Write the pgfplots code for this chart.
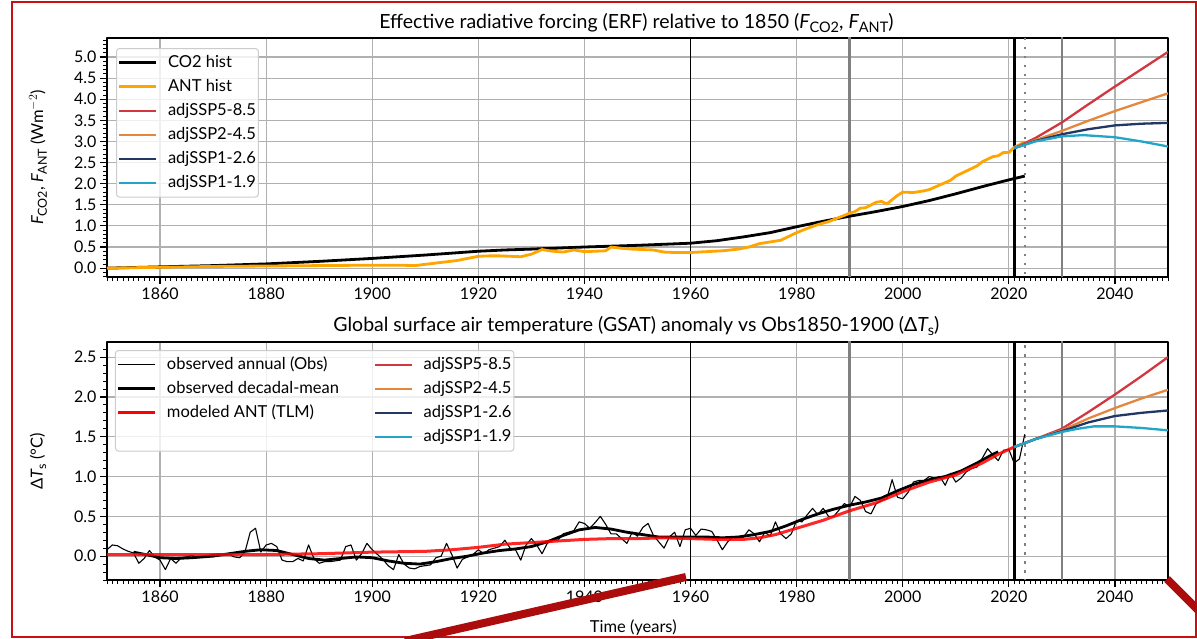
\documentclass[border=0pt]{standalone}
\usepackage{fontspec}
\setmainfont{Lato}
\usepackage{pgfplots}
\pgfplotsset{compat=1.18}
\definecolor{antorange}{RGB}{255,165,0}
\definecolor{sspA}{RGB}{210,55,65}
\definecolor{sspB}{RGB}{228,135,60}
\definecolor{sspC}{RGB}{35,55,100}
\definecolor{sspD}{RGB}{35,165,200}
\definecolor{gridgray}{RGB}{176,176,176}
\definecolor{vgray}{RGB}{128,128,128}
\definecolor{framered}{RGB}{200,16,16}
\definecolor{arrowred}{RGB}{172,12,12}
\definecolor{legframe}{RGB}{204,204,204}
\newcommand{\sbt}[1]{\raisebox{-0.22em}{\fontsize{14.5}{15}\selectfont #1}}
\newcommand{\sby}[1]{\raisebox{-0.22em}{\fontsize{12.5}{13}\selectfont #1}}
\pgfplotsset{
  myaxis/.style={
    scale only axis, width=1061pt,
    xmin=1850, xmax=2050,
    xtick={1860,1880,...,2040},
    minor xtick={1850,1851,...,2050},
    grid=major, major grid style={gridgray, line width=1.2pt},
    tick align=outside, xtick pos=bottom, ytick pos=left,
    major tick length=7pt, minor tick length=4pt,
    major tick style={black, line width=1.2pt},
    minor tick style={black, line width=0.8pt},
    axis line style={black, line width=1.3pt},
    tick label style={font=\fontsize{16}{19}\selectfont},
    /pgf/number format/assume math mode=true,
    xticklabel style={/pgf/number format/1000 sep={}},
    yticklabel style={/pgf/number format/.cd, fixed, fixed zerofill, precision=1},
    title style={font=\fontsize{19.5}{23}\selectfont, anchor=center},
    ylabel style={font=\fontsize{16.5}{19}\selectfont, anchor=center},
    xlabel style={font=\fontsize{16.5}{19}\selectfont, anchor=center},
    legend cell align=left,
    legend image code/.code={\draw[##1] (0pt,0pt) -- (37pt,0pt);},
    legend style={draw=legframe, line width=1pt, rounded corners=3pt, fill=white, fill opacity=0.8, text opacity=1,
      font=\fontsize{16.5}{19}\selectfont, anchor=north west, row sep=5.5pt,
      inner xsep=1pt, inner ysep=5pt,
      nodes={inner sep=1.5pt, text height=12pt, text depth=3.5pt},
      /tikz/every odd column/.append style={column sep=9pt}},
    no markers, line join=round,
  },
}
\begin{document}
\begin{tikzpicture}[x=1pt,y=1pt]
\useasboundingbox (0,0) rectangle (1197,639);
% ---------------- top axis ----------------
\begin{axis}[myaxis, at={(107pt,362pt)}, anchor=south west, height=239pt,
  ymin=-0.21, ymax=5.45, ytick={0,0.5,...,5.0}, minor ytick={-0.2,-0.1,...,5.41},
  title={Effective radiative forcing (ERF) relative to 1850 ({\itshape F}\sbt{CO2}, {\itshape F}\sbt{ANT})},
  title style={at={(axis description cs:0.499,1.0753)}, yshift=-9pt},
  ylabel={{\itshape F}\sby{CO2}, {\itshape F}\sby{ANT} (Wm$^{-2}$)},
  ylabel style={at={(axis description cs:-0.065,0.5)}},
  legend style={at={(0.0085,0.958)}},
]
\addplot[forget plot, black, line width=1.5pt] coordinates {(1960,-1) (1960,10)};
\addplot[forget plot, vgray, line width=2.5pt] coordinates {(1990,-1) (1990,10)};
\addplot[forget plot, vgray, line width=2.5pt] coordinates {(2030,-1) (2030,10)};
\addplot[forget plot, black, line width=3pt] coordinates {(2021,-1) (2021,10)};
\addplot[forget plot, vgray, line width=2pt, dash pattern=on 2.5pt off 6.5pt] coordinates {(2023,-1) (2023,10)};
% CO2 hist
\addplot[forget plot, black, line width=2.8pt] coordinates {
(1850,0.00) (1855,0.015) (1860,0.03) (1865,0.045) (1870,0.06) (1875,0.08) (1880,0.10) (1885,0.13)
(1890,0.16) (1895,0.195) (1900,0.23) (1905,0.27) (1910,0.31) (1915,0.355) (1920,0.40) (1925,0.43)
(1930,0.45) (1935,0.475) (1940,0.50) (1945,0.52) (1950,0.54) (1955,0.565) (1960,0.59) (1965,0.65)
(1970,0.74) (1975,0.84) (1980,0.98) (1985,1.11) (1990,1.23) (1995,1.34) (2000,1.46) (2005,1.60)
(2010,1.76) (2015,1.93) (2020,2.09) (2023,2.18)};
% ANT hist
\addplot[forget plot, antorange, line width=2.8pt] coordinates {
(1850,0.00) (1860,0.02) (1870,0.04) (1880,0.05) (1890,0.06) (1900,0.07) (1905,0.07) (1908,0.06)
(1910,0.09) (1912,0.12) (1914,0.15) (1916,0.18) (1918,0.23) (1920,0.28) (1922,0.29) (1924,0.29)
(1926,0.28) (1928,0.27) (1930,0.33) (1932,0.44) (1934,0.40) (1936,0.38) (1938,0.43) (1940,0.39)
(1942,0.40) (1944,0.41) (1945,0.50) (1947,0.47) (1949,0.45) (1951,0.44) (1953,0.43) (1955,0.38)
(1957,0.37) (1960,0.37) (1963,0.39) (1966,0.41) (1969,0.45) (1971,0.50) (1973,0.58) (1975,0.62)
(1977,0.66) (1979,0.78) (1980,0.84) (1982,0.94) (1984,1.03) (1986,1.10) (1988,1.20) (1990,1.30)
(1991,1.34) (1992,1.42) (1993,1.43) (1995,1.56) (1996,1.58) (1997,1.52) (1999,1.72) (2000,1.80)
(2002,1.79) (2004,1.83) (2005,1.86) (2007,1.97) (2009,2.08) (2010,2.18) (2012,2.30) (2014,2.42)
(2015,2.52) (2016,2.58) (2017,2.64) (2018,2.66) (2019,2.74) (2020,2.74) (2021,2.86) (2022,2.92) (2023,2.99)};
% scenarios
\addplot[forget plot, sspA, line width=2.3pt] coordinates {(2021,2.84) (2025,3.08) (2030,3.45) (2035,3.88) (2040,4.30) (2045,4.71) (2050,5.12)};
\addplot[forget plot, sspB, line width=2.3pt] coordinates {(2021,2.84) (2025,3.03) (2030,3.25) (2035,3.49) (2040,3.72) (2045,3.93) (2050,4.14)};
\addplot[forget plot, sspC, line width=2.3pt] coordinates {(2021,2.84) (2025,3.01) (2030,3.17) (2035,3.29) (2040,3.38) (2045,3.42) (2050,3.44)};
\addplot[forget plot, sspD, line width=2.3pt] coordinates {(2021,2.84) (2025,3.00) (2030,3.12) (2034,3.15) (2040,3.10) (2045,3.00) (2050,2.88)};
\addlegendimage{black, line width=3pt}\addlegendentry{CO2 hist}
\addlegendimage{antorange, line width=3pt}\addlegendentry{ANT hist}
\addlegendimage{sspA, line width=2.5pt}\addlegendentry{adjSSP5-8.5}
\addlegendimage{sspB, line width=2.5pt}\addlegendentry{adjSSP2-4.5}
\addlegendimage{sspC, line width=2.5pt}\addlegendentry{adjSSP1-2.6}
\addlegendimage{sspD, line width=2.5pt}\addlegendentry{adjSSP1-1.9}
\end{axis}
% ---------------- bottom axis ----------------
\begin{axis}[myaxis, at={(107pt,59pt)}, anchor=south west, height=238pt,
  ymin=-0.30, ymax=2.69, ytick={0,0.5,...,2.5}, minor ytick={-0.3,-0.2,...,2.61},
  title={Global surface air temperature (GSAT) anomaly vs Obs1850-1900 (Δ{\itshape T}\sbt{s})},
  title style={at={(axis description cs:0.499,1.0714)}, yshift=-7pt},
  ylabel={Δ{\itshape T}\sby{s} (°C)},
  ylabel style={at={(axis description cs:-0.065,0.5)}},
  xlabel={Time (years)},
  xlabel style={at={(axis description cs:0.496,-0.2017)}},
  legend style={at={(0.0075,0.966)}, /tikz/every even column/.append style={column sep=33pt}},
  legend columns=4, transpose legend,
]
\addplot[forget plot, black, line width=1.5pt] coordinates {(1960,-1) (1960,10)};
\addplot[forget plot, vgray, line width=2.5pt] coordinates {(1990,-1) (1990,10)};
\addplot[forget plot, vgray, line width=2.5pt] coordinates {(2030,-1) (2030,10)};
\addplot[forget plot, black, line width=3pt] coordinates {(2021,-1) (2021,10)};
\addplot[forget plot, vgray, line width=2pt, dash pattern=on 2.5pt off 6.5pt] coordinates {(2023,-1) (2023,10)};
% observed annual
\addplot[forget plot, black, line width=1.1pt] coordinates {
(1850,0.08) (1851,0.14) (1852,0.13) (1853,0.09) (1854,0.06) (1855,0.04) (1856,-0.09) (1857,-0.03)
(1858,0.07) (1859,-0.01) (1860,-0.05) (1861,-0.17) (1862,-0.03) (1863,-0.09) (1864,-0.02) (1865,-0.01)
(1866,0.01) (1867,-0.02) (1868,0.00) (1869,0.01) (1870,0.02) (1871,0.03) (1872,0.01) (1873,0.02)
(1874,-0.01) (1875,-0.02) (1876,0.05) (1877,0.30) (1878,0.35) (1879,0.05) (1880,0.14) (1881,0.16)
(1882,0.12) (1883,-0.05) (1884,-0.07) (1885,-0.07) (1886,-0.03) (1887,-0.06) (1888,0.14) (1889,-0.03)
(1890,-0.09) (1891,-0.07) (1892,-0.07) (1893,-0.06) (1894,-0.05) (1895,0.12) (1896,0.14) (1897,-0.05)
(1898,0.03) (1899,0.16) (1900,0.08) (1901,0.02) (1902,-0.04) (1903,-0.12) (1904,-0.17) (1905,0.02)
(1906,-0.10) (1907,-0.15) (1908,-0.16) (1909,-0.13) (1910,-0.12) (1911,-0.11) (1912,-0.02) (1913,0.00)
(1914,0.16) (1915,0.02) (1916,-0.15) (1917,-0.04) (1918,-0.01) (1919,0.02) (1920,0.08) (1921,0.03)
(1922,0.08) (1923,0.10) (1924,0.12) (1925,0.20) (1926,0.10) (1927,0.08) (1928,-0.05) (1929,0.14)
(1930,0.22) (1931,0.14) (1932,0.03) (1933,0.16) (1934,0.20) (1935,0.20) (1936,0.28) (1937,0.30)
(1938,0.32) (1939,0.43) (1940,0.41) (1941,0.35) (1942,0.42) (1943,0.50) (1944,0.40) (1945,0.28)
(1946,0.28) (1947,0.22) (1948,0.16) (1949,0.30) (1950,0.25) (1951,0.36) (1952,0.41) (1953,0.26)
(1954,0.18) (1955,0.10) (1956,0.24) (1957,0.30) (1958,0.12) (1959,0.33) (1960,0.35) (1961,0.26)
(1962,0.34) (1963,0.33) (1964,0.31) (1965,0.20) (1966,0.08) (1967,0.18) (1968,0.24) (1969,0.24)
(1970,0.24) (1971,0.33) (1972,0.28) (1973,0.18) (1974,0.30) (1975,0.25) (1976,0.43) (1977,0.28)
(1978,0.22) (1979,0.28) (1980,0.45) (1981,0.43) (1982,0.52) (1983,0.60) (1984,0.52) (1985,0.60)
(1986,0.50) (1987,0.50) (1988,0.58) (1989,0.66) (1990,0.62) (1991,0.75) (1992,0.70) (1993,0.56)
(1994,0.53) (1995,0.66) (1996,0.70) (1997,0.72) (1998,0.96) (1999,0.74) (2000,0.72) (2001,0.80)
(2002,0.93) (2003,0.95) (2004,0.95) (2005,1.00) (2006,0.98) (2007,1.00) (2008,0.89) (2009,1.04)
(2010,0.93) (2011,0.98) (2012,1.06) (2013,1.10) (2014,1.12) (2015,1.23) (2016,1.35) (2017,1.27)
(2018,1.20) (2019,1.33) (2020,1.34) (2021,1.17) (2022,1.22) (2023,1.53)};
% observed decadal mean
\addplot[forget plot, black, line width=2.8pt] coordinates {
(1855,0.05) (1858,0.01) (1860,-0.02) (1863,-0.03) (1866,-0.02) (1870,0.00) (1873,0.03) (1876,0.06)
(1879,0.08) (1882,0.07) (1885,0.02) (1888,-0.03) (1891,-0.05) (1894,-0.03) (1897,-0.01) (1900,-0.02)
(1903,-0.06) (1906,-0.09) (1909,-0.10) (1912,-0.07) (1915,-0.03) (1918,0.00) (1921,0.04) (1924,0.07)
(1927,0.09) (1930,0.12) (1933,0.18) (1936,0.26) (1939,0.33) (1942,0.36) (1945,0.34) (1948,0.30)
(1951,0.27) (1954,0.24) (1957,0.24) (1960,0.24) (1963,0.24) (1966,0.23) (1969,0.24) (1972,0.27)
(1975,0.31) (1978,0.38) (1981,0.46) (1984,0.53) (1987,0.59) (1990,0.64) (1993,0.68) (1996,0.73)
(1999,0.82) (2002,0.90) (2005,0.96) (2008,1.00) (2011,1.07) (2014,1.17) (2017,1.28) (2018,1.31)};
% modeled ANT
\addplot[forget plot, red, opacity=0.85, line width=3pt] coordinates {
(1850,0.02) (1880,0.02) (1890,0.03) (1900,0.05) (1910,0.06) (1915,0.08) (1920,0.11) (1925,0.15)
(1930,0.17) (1935,0.19) (1940,0.21) (1945,0.22) (1950,0.22) (1955,0.23) (1960,0.22) (1965,0.21)
(1970,0.21) (1973,0.23) (1976,0.27) (1980,0.35) (1985,0.45) (1990,0.57) (1995,0.67) (2000,0.81)
(2005,0.93) (2010,1.02) (2015,1.17) (2018,1.28) (2021,1.37)};
% scenarios
\addplot[forget plot, sspA, line width=2.3pt] coordinates {(2021,1.37) (2025,1.47) (2030,1.60) (2035,1.81) (2040,2.03) (2045,2.26) (2050,2.50)};
\addplot[forget plot, sspB, line width=2.3pt] coordinates {(2021,1.37) (2025,1.47) (2030,1.58) (2035,1.73) (2040,1.86) (2045,1.98) (2050,2.09)};
\addplot[forget plot, sspC, line width=2.3pt] coordinates {(2021,1.37) (2025,1.47) (2030,1.57) (2035,1.68) (2040,1.76) (2045,1.80) (2050,1.83)};
\addplot[forget plot, sspD, line width=2.3pt] coordinates {(2021,1.37) (2025,1.47) (2030,1.56) (2033,1.60) (2036,1.63) (2040,1.63) (2045,1.61) (2050,1.58)};
\addlegendimage{black, line width=1.1pt}\addlegendentry{observed annual (Obs)}
\addlegendimage{black, line width=3pt}\addlegendentry{observed decadal-mean}
\addlegendimage{red, line width=3pt}\addlegendentry{modeled ANT (TLM)}
\addlegendimage{empty legend}\addlegendentry{}
\addlegendimage{sspA, line width=2.5pt}\addlegendentry{adjSSP5-8.5}
\addlegendimage{sspB, line width=2.5pt}\addlegendentry{adjSSP2-4.5}
\addlegendimage{sspC, line width=2.5pt}\addlegendentry{adjSSP1-2.6}
\addlegendimage{sspD, line width=2.5pt}\addlegendentry{adjSSP1-1.9}
\end{axis}
% annotation frame and strokes
\draw[framered, line width=2pt] (12,2) rectangle (1196,637);
\draw[arrowred, line width=8pt] (405,-2) -- (686,62);
\draw[arrowred, line width=8pt] (1167,60) -- (1205,22);
\end{tikzpicture}
\end{document}
